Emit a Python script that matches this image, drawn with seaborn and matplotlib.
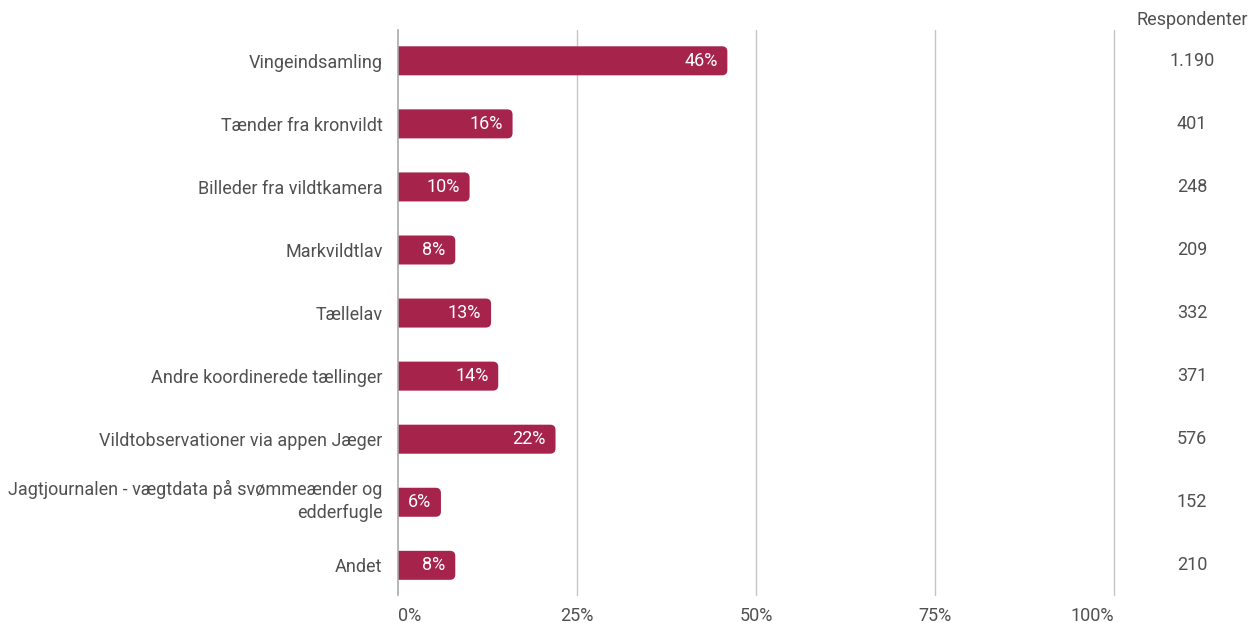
import matplotlib
matplotlib.use("Agg")
import matplotlib.pyplot as plt
import matplotlib.transforms as mtransforms
from matplotlib.patches import FancyBboxPatch
import seaborn as sns
import pandas as pd

# ---------------------------
# Data
# ---------------------------
categories = [
    "Vingeindsamling",
    "Tænder fra kronvildt",
    "Billeder fra vildtkamera",
    "Markvildtlav",
    "Tællelav",
    "Andre koordinerede tællinger",
    "Vildtobservationer via appen Jæger",
    "Jagtjournalen - vægtdata på svømmeænder og\nedderfugle",
    "Andet",
]
shares = [46, 16, 10, 8, 13, 14, 22, 6, 8]
respondents = ["1.190", "401", "248", "209", "332", "371", "576", "152", "210"]
x_ticks = [0, 25, 50, 75, 100]
x_ticklabels = ["0%", "25%", "50%", "75%", "100%"]

df = pd.DataFrame({"category": categories, "share": shares})

# ---------------------------
# Plot
# ---------------------------
sns.set_theme(style="white")
plt.rcParams["font.family"] = ["Roboto", "DejaVu Sans"]

bar_color = "#a6244b"
text_color = "#505050"
grid_color = "#c4c4c4"

fig = plt.figure(figsize=(12.5, 6.23), dpi=100)
ax = fig.add_axes([0.3184, 0.045, 0.8912 - 0.3184, 0.952 - 0.045])

sns.barplot(data=df, x="share", y="category", color=bar_color,
            saturation=1, width=0.46, orient="h", ax=ax)

ax.set_xlim(0, 100)
ax.set_ylim(8.47, -0.49)

# rounded bar ends (left side hidden behind the axis edge)
for p in list(ax.patches):
    x, y, w, h = p.get_x(), p.get_y(), p.get_width(), p.get_height()
    rounded = FancyBboxPatch((x - 2, y), w + 2, h,
                             boxstyle="round,pad=0,rounding_size=0.75",
                             mutation_aspect=0.11, fc=bar_color, ec="none",
                             zorder=2)
    ax.add_patch(rounded)
    p.set_visible(False)

ax.set_xticks(x_ticks)
ax.set_xticklabels(x_ticklabels, fontsize=13, color=text_color)
xlabs = ax.get_xticklabels()
xlabs[0].set_ha("left")
xlabs[-1].set_ha("right")
ax.set_xlabel("")
ax.set_ylabel("")
ax.tick_params(axis="x", length=0, pad=9)
ax.tick_params(axis="y", length=0, pad=11, labelsize=13, labelcolor=text_color)
for lab in ax.get_yticklabels():
    lab.set_linespacing(1.35)
    if "\n" in lab.get_text():
        lab.set_transform(lab.get_transform() +
                          mtransforms.ScaledTranslation(0, 4 / 72, fig.dpi_scale_trans))

for s in ["top", "right", "bottom"]:
    ax.spines[s].set_visible(False)
ax.spines["left"].set_color("#aaaaaa")
ax.spines["left"].set_linewidth(1.2)
ax.spines["left"].set_zorder(3)
for t in x_ticks[1:]:
    ax.axvline(t, color=grid_color, lw=1, zorder=0, clip_on=False)

# value labels inside bars
for i, v in enumerate(shares):
    ax.annotate(f"{v}%", xy=(v, i), xytext=(-7, 0), textcoords="offset points",
                ha="right", va="center", color="white", fontsize=13, zorder=4)

# respondent column
trans = mtransforms.blended_transform_factory(fig.transFigure, ax.transData)
for i, r in enumerate(respondents):
    ax.text(1192 / 1250, i, r, transform=trans, ha="center", va="center",
            fontsize=13, color=text_color)
fig.text(1192 / 1250, 1 - 20 / 623, "Respondenter", ha="center", va="center",
         fontsize=13, color=text_color)

plt.savefig("out.png", dpi=100)
plt.close()
